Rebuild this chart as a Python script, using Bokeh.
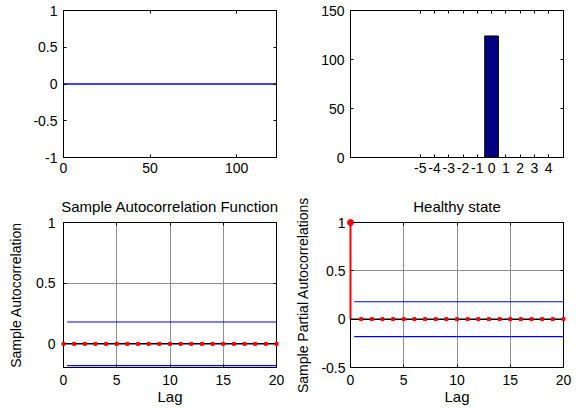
from bokeh.plotting import figure
from bokeh.models import LinearAxis, FixedTicker, Span, Range1d, CustomJSTickFormatter
from bokeh.layouts import gridplot
from bokeh.embed import file_html
from bokeh.resources import INLINE

# ---------------- data ----------------
# top-left: time signal (all zero)
sample_index = list(range(124))
signal_values = [0.0] * 124
# top-right: histogram of signal
hist_centers = [-5, -4, -3, -2, -1, 0, 1, 2, 3, 4]
hist_counts = [0, 0, 0, 0, 0, 124, 0, 0, 0, 0]
# bottom: sample ACF / PACF
lags = list(range(21))
acf_values = [0, 0, 0, 0, 0, 0, 0, 0, 0, 0, 0, 0, 0, 0, 0, 0, 0, 0, 0, 0, 0]
pacf_values = [1, 0, 0, 0, 0, 0, 0, 0, 0, 0, 0, 0, 0, 0, 0, 0, 0, 0, 0, 0, 0]
conf_lags = [0.35, 20]
conf_upper = [0.18, 0.18]
conf_lower = [-0.18, -0.18]

FONT = "Liberation Sans"
TICK_PX = "14px"
TITLE_PX = "15px"
XLABEL_PX = "15px"
YLABEL_PX = "14px"


def mirror_axis(ticks):
    return LinearAxis(ticker=FixedTicker(ticks=ticks), major_label_text_color=None,
                      major_label_text_font_size="1px",
                      major_label_standoff=0, axis_label_standoff=0,
                      major_tick_in=3, major_tick_out=0,
                      minor_tick_in=0, minor_tick_out=0, axis_line_color="black",
                      major_tick_line_color="black")


def make_fig(w, h, xr, yr, xticks, yticks, mb, title=None, xstand=5, ystand=6):
    p = figure(width=w, height=h, x_range=Range1d(*xr), y_range=Range1d(*yr),
               output_backend="svg", toolbar_location=None, tools="",
               min_border_left=mb[0], min_border_right=mb[1],
               min_border_top=mb[2], min_border_bottom=mb[3])
    p.background_fill_color = "white"
    p.border_fill_color = "white"
    p.outline_line_color = "black"
    p.outline_line_width = 1
    p.xaxis.ticker = FixedTicker(ticks=xticks)
    p.yaxis.ticker = FixedTicker(ticks=yticks)
    for ax in (p.xaxis[0], p.yaxis[0]):
        ax.formatter = CustomJSTickFormatter(code="return String(tick)")
        ax.major_tick_in = 3
        ax.major_tick_out = 0
        ax.minor_tick_in = 0
        ax.minor_tick_out = 0
        ax.major_tick_line_color = "black"
        ax.axis_line_color = "black"
        ax.major_label_text_font = FONT
        ax.major_label_text_font_size = TICK_PX
        ax.major_label_text_color = "black"
        ax.axis_label_text_font = FONT
        ax.axis_label_text_font_style = "normal"
        ax.axis_label_text_color = "black"
    p.xaxis[0].axis_label_text_font_size = XLABEL_PX
    p.yaxis[0].axis_label_text_font_size = YLABEL_PX
    p.xaxis[0].major_label_standoff = xstand
    p.yaxis[0].major_label_standoff = ystand
    # mirrored tick marks on top and right
    p.add_layout(mirror_axis(xticks), "above")
    p.add_layout(mirror_axis(yticks), "right")
    p.xgrid.grid_line_color = None
    p.ygrid.grid_line_color = None
    if title:
        p.title.text = title
        p.title.align = "center"
        p.title.text_font = FONT
        p.title.text_font_size = TITLE_PX
        p.title.text_font_style = "normal"
        p.title.text_color = "black"
        p.title.standoff = 15
    return p


# top-left
p1 = make_fig(292, 186, (0, 123), (-1, 1), [0, 50, 100], [-1, -0.5, 0, 0.5, 1],
              (63, 16, 10, 29))
p1.line(sample_index, signal_values, line_color="#0000ff", line_width=1.3)

# top-right
p2 = make_fig(288, 186, (-9.9, 5.05), (0, 150), hist_centers, [0, 50, 100, 150],
              (56, 16, 10, 29))
p2.vbar(x=hist_centers, top=hist_counts, bottom=0, width=0.96,
        fill_color="#000080", line_color="black", line_width=1)

# bottom-left
p3 = make_fig(292, 222, (0, 20), (-0.195, 1), [0, 5, 10, 15, 20], [0, 0.5, 1],
              (63, 16, 36, 41), title="Sample Autocorrelation Function", xstand=7, ystand=8)
p3.xgrid.grid_line_color = "#909090"
p3.ygrid.grid_line_color = "#909090"
p3.below[0].axis_label = "Lag"
p3.left[0].axis_label = "Sample Autocorrelation"
p3.below[0].axis_label_standoff = 0
p3.left[0].axis_label_standoff = 9
p3.add_layout(Span(location=0, dimension="width", line_color="black", line_width=1.5))
p3.line(conf_lags, conf_upper, line_color="#0000ff", line_width=1.2)
p3.line(conf_lags, conf_lower, line_color="#0000ff", line_width=1.2)
p3.segment(x0=lags, y0=[0] * len(lags), x1=lags, y1=acf_values,
           line_color="red", line_width=2, level="overlay")
p3.scatter(lags, acf_values, marker="square", size=3, color="red", level="overlay")

# bottom-right
p4 = make_fig(288, 222, (0, 20), (-0.5, 1), [0, 5, 10, 15, 20], [-0.5, 0, 0.5, 1],
              (57, 17, 35, 41), title="Healthy state", xstand=7, ystand=5)
p4.xgrid.grid_line_color = "#909090"
p4.ygrid.grid_line_color = "#909090"
p4.below[0].axis_label = "Lag"
p4.left[0].axis_label = "Sample Partial Autocorrelations"
p4.below[0].axis_label_standoff = 0
p4.left[0].axis_label_standoff = 7
p4.add_layout(Span(location=0, dimension="width", line_color="black", line_width=1.5))
p4.line(conf_lags, conf_upper, line_color="#0000ff", line_width=1.2)
p4.line(conf_lags, conf_lower, line_color="#0000ff", line_width=1.2)
p4.segment(x0=lags, y0=[0] * len(lags), x1=lags, y1=pacf_values,
           line_color="red", line_width=2, level="overlay")
p4.scatter(lags[1:], pacf_values[1:], marker="square", size=3, color="red", level="overlay")
p4.scatter(lags[:1], pacf_values[:1], marker="circle", size=6, color="red", level="overlay")

grid = gridplot([[p1, p2], [p3, p4]], toolbar_location=None)

open("out.html", "w").write(file_html(grid, INLINE))
